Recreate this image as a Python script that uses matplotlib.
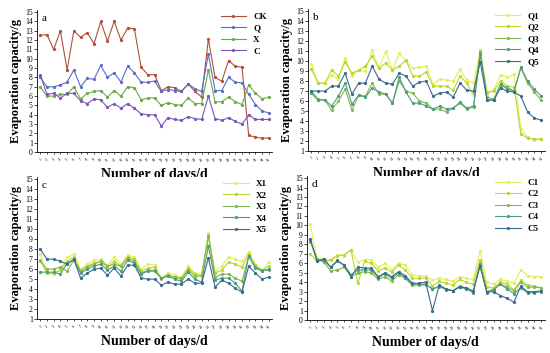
import matplotlib
matplotlib.use("Agg")
import matplotlib.pyplot as plt
import numpy as np

days = list(range(1, 36))

# painel a
ck = [12.5, 12.6, 11.0, 13.0, 8.8, 13.0, 12.3, 12.8, 11.6, 14.0, 11.9, 14.0, 12.0, 13.3, 13.2, 9.1, 8.3, 8.3,
      6.6, 7.0, 6.9, 6.5, 7.3, 6.5, 5.9, 12.1, 8.0, 7.6, 9.8, 9.2, 9.1, 1.8, 1.6, 1.5, 1.5]
q = [8.0, 7.0, 7.0, 7.2, 7.5, 8.8, 7.0, 7.9, 7.8, 9.3, 8.0, 8.5, 7.5, 9.2, 8.5, 7.5, 7.5, 7.6,
     6.5, 6.7, 6.6, 6.5, 7.3, 6.8, 6.5, 10.5, 6.6, 6.6, 8.0, 7.5, 7.4, 6.2, 5.1, 4.4, 4.2]
x = [7.0, 6.0, 6.0, 6.2, 6.2, 7.0, 5.7, 6.3, 6.5, 6.6, 5.9, 6.6, 6.0, 7.0, 6.9, 5.6, 5.8, 5.8,
     5.0, 5.3, 5.1, 5.0, 5.8, 5.2, 5.2, 8.8, 5.4, 5.4, 5.9, 5.4, 5.1, 7.2, 6.3, 5.7, 5.9]
c = [8.3, 6.2, 6.3, 5.8, 6.3, 6.3, 5.5, 5.2, 5.7, 5.6, 4.8, 5.2, 4.7, 5.2, 4.7, 4.1, 4.0, 4.0,
     2.8, 3.7, 3.5, 3.4, 3.8, 3.6, 3.5, 6.0, 3.6, 3.4, 3.7, 3.3, 3.0, 4.0, 3.5, 3.5, 3.5]

# painel b
q1 = [9.7, 7.8, 7.8, 8.6, 8.2, 10.3, 8.5, 9.1, 9.0, 11.1, 9.3, 11.0, 9.1, 10.8, 10.0, 9.3, 9.4, 9.5,
      7.7, 8.2, 8.1, 8.0, 9.2, 8.1, 7.8, 11.1, 6.6, 7.2, 8.6, 8.4, 8.7, 3.2, 2.4, 2.1, 2.2]
q2 = [9.2, 7.8, 7.8, 9.1, 8.5, 9.9, 8.8, 9.1, 9.5, 10.5, 9.3, 9.8, 9.1, 9.5, 10.1, 8.5, 8.5, 8.9,
      7.5, 7.5, 7.5, 7.1, 8.5, 7.8, 6.6, 11.0, 6.9, 7.0, 8.0, 7.5, 7.4, 2.7, 2.3, 2.2, 2.2]
q3 = [7.0, 6.2, 6.1, 5.1, 6.0, 7.2, 5.1, 6.6, 6.5, 7.8, 6.7, 6.7, 5.8, 8.0, 7.0, 6.8, 6.0, 5.8,
      5.2, 5.2, 4.9, 5.3, 5.8, 5.2, 5.4, 10.9, 6.4, 6.2, 7.6, 7.4, 7.0, 9.3, 7.8, 6.9, 6.1]
q4 = [6.8, 6.1, 6.1, 5.5, 6.5, 7.8, 5.7, 6.6, 6.4, 7.3, 6.9, 6.7, 5.8, 8.4, 6.9, 5.8, 5.8, 5.5,
      5.2, 5.5, 5.2, 5.3, 5.9, 5.3, 5.5, 10.7, 6.1, 6.1, 7.7, 7.2, 7.0, 9.4, 8.0, 7.2, 6.5]
q5 = [7.0, 7.0, 7.0, 7.5, 7.5, 8.8, 6.7, 7.8, 7.8, 9.5, 8.2, 7.8, 7.7, 8.8, 8.5, 7.5, 7.9, 8.0,
      6.5, 6.8, 6.9, 6.4, 7.8, 7.1, 7.0, 9.9, 6.1, 6.1, 7.3, 7.0, 6.9, 6.5, 4.9, 4.3, 4.1]

# painel c
x1 = [7.5, 5.6, 5.5, 6.0, 7.2, 7.5, 6.0, 6.5, 6.9, 7.0, 6.4, 7.2, 6.5, 7.4, 7.2, 6.0, 6.5, 6.4,
      5.1, 5.6, 5.4, 5.2, 6.3, 5.6, 5.4, 9.6, 5.7, 6.3, 7.2, 7.0, 6.8, 7.7, 6.5, 5.8, 6.7]
x2 = [6.9, 5.6, 5.6, 5.9, 6.8, 7.2, 5.8, 6.3, 6.6, 6.8, 6.2, 6.8, 6.3, 7.2, 7.0, 5.8, 6.1, 6.2,
      5.0, 5.4, 5.2, 5.0, 6.1, 5.5, 5.4, 9.4, 5.6, 5.9, 6.7, 6.5, 6.2, 7.5, 6.4, 5.9, 6.3]
x3 = [6.8, 6.0, 6.0, 6.2, 5.8, 6.9, 5.8, 6.2, 6.5, 6.8, 6.3, 6.5, 6.3, 7.1, 6.8, 5.6, 5.9, 5.9,
      5.1, 5.4, 5.2, 5.1, 5.9, 5.3, 5.3, 9.3, 5.2, 5.5, 5.5, 5.1, 4.8, 7.3, 6.2, 5.9, 5.9]
x4 = [5.7, 5.7, 5.7, 5.5, 6.6, 6.9, 5.6, 6.0, 6.3, 6.5, 5.9, 6.3, 5.8, 6.9, 6.6, 5.5, 5.8, 5.8,
      5.1, 5.3, 5.0, 4.8, 5.7, 5.0, 4.7, 8.3, 4.9, 5.1, 5.1, 4.6, 3.8, 7.3, 6.1, 5.8, 6.0]
x5 = [8.0, 7.0, 7.0, 6.8, 6.5, 7.0, 5.1, 5.6, 6.0, 6.1, 5.4, 6.1, 5.3, 6.4, 6.4, 5.1, 5.0, 5.0,
      4.4, 4.7, 4.5, 4.5, 5.0, 4.6, 4.6, 7.1, 4.2, 4.9, 4.6, 4.1, 3.7, 6.3, 5.6, 5.0, 5.2]

# painel d
c1 = [10.1, 6.5, 6.4, 6.4, 6.9, 6.8, 7.4, 6.1, 6.4, 6.4, 5.6, 6.0, 5.3, 6.0, 5.8, 4.8, 4.7, 4.7,
      4.2, 4.4, 4.3, 4.1, 4.6, 4.4, 4.3, 7.3, 4.0, 3.8, 4.3, 4.1, 3.9, 5.3, 4.7, 4.6, 4.6]
c2 = [7.0, 6.2, 6.3, 6.3, 6.8, 6.9, 7.4, 3.9, 6.2, 6.0, 5.2, 5.5, 5.1, 5.8, 5.3, 4.4, 4.4, 4.5,
      3.6, 4.1, 3.9, 3.7, 4.3, 4.0, 3.8, 6.4, 3.5, 3.4, 4.0, 3.8, 3.2, 4.2, 3.7, 3.6, 3.4]
c3 = [8.3, 6.5, 6.1, 5.2, 5.3, 5.6, 4.6, 5.0, 5.1, 5.0, 4.3, 4.6, 4.1, 4.8, 4.4, 3.7, 3.7, 3.7,
      3.3, 3.5, 3.3, 3.1, 3.6, 3.4, 3.0, 6.0, 3.0, 3.3, 3.8, 3.5, 3.1, 4.0, 3.5, 3.5, 3.4]
c4 = [8.4, 6.3, 6.3, 5.6, 6.2, 5.8, 4.8, 5.3, 5.3, 5.3, 4.5, 4.9, 4.4, 5.0, 4.5, 3.8, 3.8, 3.8,
      3.3, 3.6, 3.2, 3.1, 3.5, 3.3, 2.9, 5.8, 2.9, 3.2, 3.8, 3.3, 2.8, 3.4, 2.9, 2.9, 3.0]
c5 = [8.6, 6.2, 6.5, 5.6, 6.3, 5.8, 4.6, 5.6, 5.5, 5.5, 4.6, 5.0, 4.6, 5.1, 4.7, 3.9, 3.9, 4.0,
      1.0, 3.7, 3.3, 3.1, 3.5, 3.4, 3.1, 5.7, 3.0, 3.0, 2.6, 2.3, 1.9, 3.6, 3.0, 3.0, 3.1]

cores_a = ["#b0503a", "#5a6ec4", "#6aaa4a", "#7a58b8"]
cores_5 = ["#e4ee5c", "#b8d82e", "#82b850", "#4e9c80", "#3c6c8c"]

plt.rcParams["font.family"] = ["Liberation Serif", "DejaVu Serif"]

fig = plt.figure(figsize=(5.5, 3.53), dpi=100)

paineis = [
    ("a", [0.067, 0.569, 0.428, 0.402], (0, 15), [ck, q, x, c], ["CK", "Q", "X", "C"], cores_a),
    ("b", [0.56, 0.572, 0.43, 0.402], (1, 15), [q1, q2, q3, q4, q5], ["Q1", "Q2", "Q3", "Q4", "Q5"], cores_5),
    ("c", [0.067, 0.096, 0.428, 0.402], (1, 15), [x1, x2, x3, x4, x5], ["X1", "X2", "X3", "X4", "X5"], cores_5),
    ("d", [0.558, 0.093, 0.432, 0.408], (0, 15), [c1, c2, c3, c4, c5], ["C1", "C2", "C3", "C4", "C5"], cores_5),
]

for letra, pos, ylim, series, nomes, cores in paineis:
    ax = fig.add_axes(pos)
    for s, nome, cor in zip(series, nomes, cores):
        ax.plot(days, s, color=cor, lw=0.8, marker="o", ms=1.3, label=nome)
    ax.set_xlim(0.5, 35.5)
    ax.set_ylim(ylim[0], ylim[1] + 0.2)
    ax.set_yticks(np.arange(ylim[0], ylim[1] + 1, 1))
    ax.set_xticks(days)
    ax.set_xticklabels([str(d) for d in days], rotation=45, fontsize=3)
    ax.tick_params(axis="y", labelsize=5.5, length=2, width=0.5, pad=1)
    ax.tick_params(axis="x", length=1.5, width=0.5, pad=2)
    for lado in ["top", "right"]:
        ax.spines[lado].set_visible(False)
    for lado in ["left", "bottom"]:
        ax.spines[lado].set_linewidth(0.6)
    ax.set_ylabel("Evaporation capacity/g", fontsize=9, fontweight="bold", labelpad=2)
    ax.set_xlabel("Number of days/d", fontsize=10, fontweight="bold", labelpad=4)
    ax.text(0.02, 0.97, letra, transform=ax.transAxes, fontsize=8, va="top", ha="left")
    leg = ax.legend(loc="upper right", frameon=False, fontsize=6.5, handlelength=2.8,
                    labelspacing=0.35, borderaxespad=0.2, bbox_to_anchor=(1.0, 1.02))
    for t in leg.get_texts():
        t.set_fontweight("bold")

fig.savefig("out.png", dpi=100)
